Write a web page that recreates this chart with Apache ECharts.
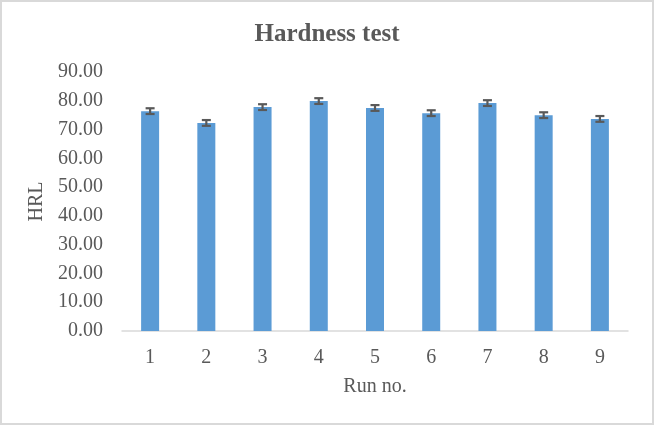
<!DOCTYPE html>
<html>
<head>
<meta charset="utf-8">
<script src="https://cdn.jsdelivr.net/npm/echarts@6/dist/echarts.min.js"></script>
<style>
html,body{margin:0;padding:0;background:#fff;}
#chart{width:654px;height:425px;}
</style>
</head>
<body>
<div id="chart"></div>
<script>
var categories = ['1','2','3','4','5','6','7','8','9'];
var hardness = [76.4, 72.3, 77.8, 79.9, 77.5, 75.7, 79.2, 75.0, 73.7];
var errors = [1.0, 1.0, 1.0, 1.0, 1.0, 1.0, 1.0, 1.0, 1.0];
var yTicks = {min: 0, max: 90, interval: 10};

var errData = hardness.map(function (v, i) { return [i, v - errors[i], v + errors[i]]; });
var font = '"Liberation Serif", "Times New Roman", serif';
var chart = echarts.init(document.getElementById('chart'), null, {renderer: 'canvas'});
chart.setOption({
  animation: false,
  backgroundColor: '#fff',
  title: {
    text: 'Hardness test', left: 'center', top: 17,
    textStyle: {fontFamily: font, fontSize: 25, fontWeight: 'bold', color: '#595959'}
  },
  graphic: [{
    type: 'rect', shape: {x: 1, y: 1, width: 652, height: 423},
    style: {fill: 'none', stroke: '#d9d9d9', lineWidth: 2}, silent: true
  }],
  grid: {left: 122, right: 26, top: 72, bottom: 94},
  xAxis: {
    type: 'category', data: categories,
    name: 'Run no.', nameLocation: 'middle', nameGap: 46,
    nameTextStyle: {fontFamily: font, fontSize: 20, color: '#595959'},
    axisLine: {lineStyle: {color: '#d9d9d9', width: 1.5}},
    axisTick: {show: false},
    axisLabel: {fontFamily: font, fontSize: 20, color: '#595959', margin: 17}
  },
  yAxis: {
    type: 'value', min: yTicks.min, max: yTicks.max, interval: yTicks.interval,
    name: 'HRL', nameLocation: 'middle', nameGap: 68,
    nameTextStyle: {fontFamily: font, fontSize: 20, color: '#595959'},
    axisLine: {show: false}, axisTick: {show: false},
    splitLine: {show: false},
    axisLabel: {fontFamily: font, fontSize: 20, color: '#595959', margin: 19,
      formatter: function (v) { return v.toFixed(2); }}
  },
  series: [{
    type: 'bar', data: hardness, barWidth: 18,
    itemStyle: {color: '#5b9bd5'}
  }, {
    type: 'custom', data: errData, z: 10,
    renderItem: function (params, api) {
      var x = api.value(0);
      var lo = api.coord([x, api.value(1)]);
      var hi = api.coord([x, api.value(2)]);
      var hw = 4.5;
      var st = {stroke: '#595959', lineWidth: 2.2};
      return {type: 'group', children: [
        {type: 'line', shape: {x1: lo[0], y1: lo[1], x2: hi[0], y2: hi[1]}, style: st},
        {type: 'line', shape: {x1: lo[0] - hw, y1: lo[1], x2: lo[0] + hw, y2: lo[1]}, style: st},
        {type: 'line', shape: {x1: hi[0] - hw, y1: hi[1], x2: hi[0] + hw, y2: hi[1]}, style: st}
      ]};
    }
  }]
});
</script>
</body>
</html>
